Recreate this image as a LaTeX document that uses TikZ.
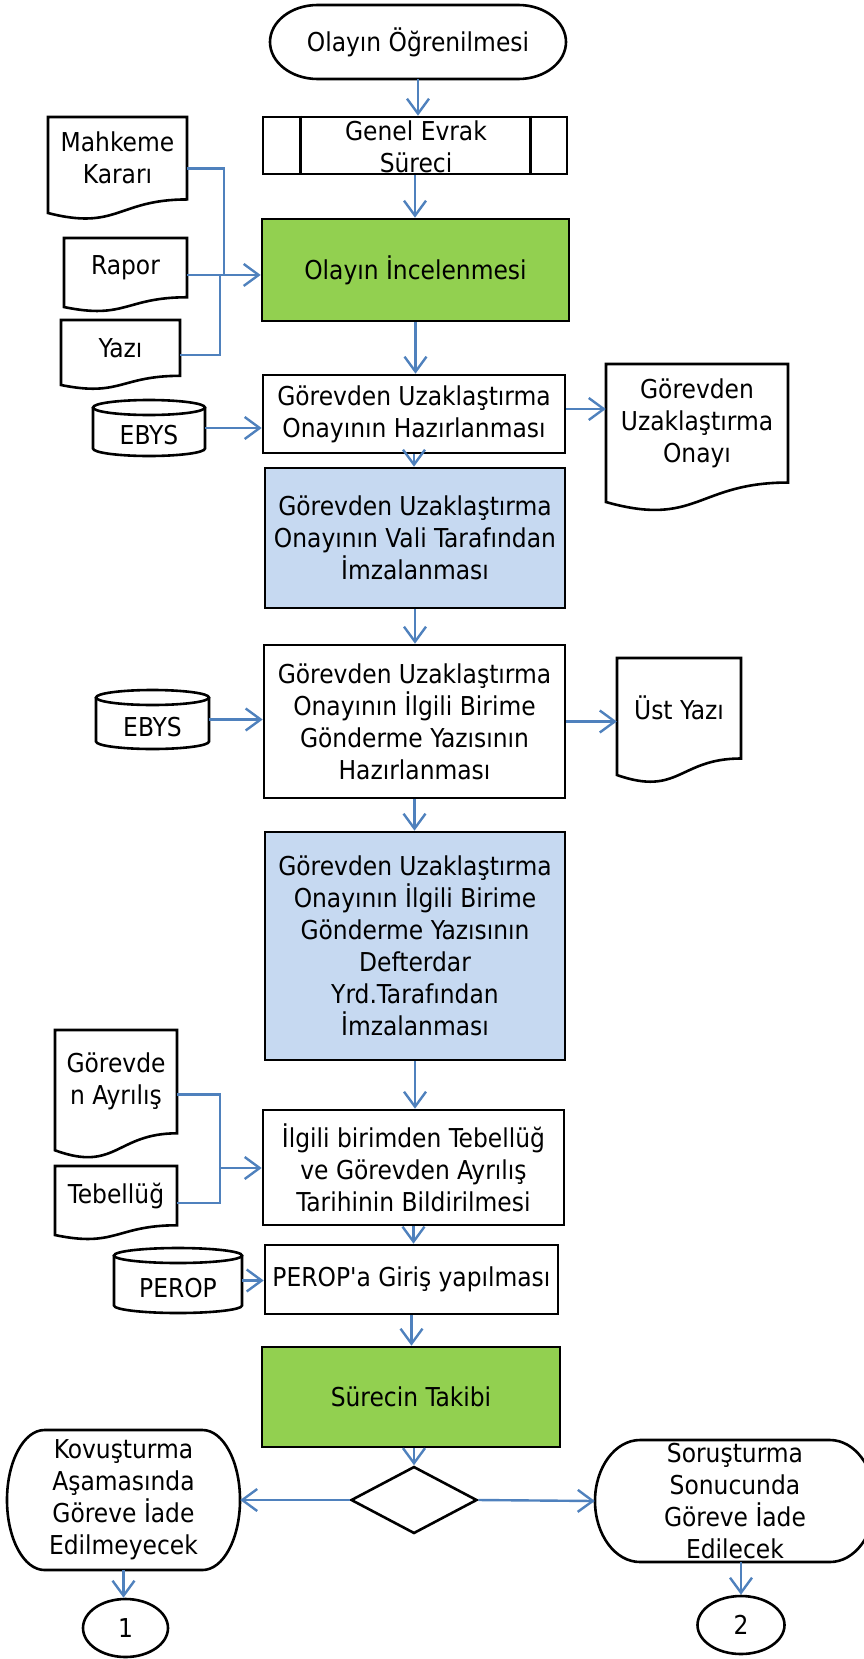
\documentclass[tikz,border=0pt]{standalone}
\usepackage{fontspec}
\setmainfont{DejaVu Sans Condensed}[Ligatures=TeXOff]
\usetikzlibrary{arrows.meta,shapes.geometric}
\definecolor{lnblue}{HTML}{4F81BD}
\definecolor{boxgreen}{HTML}{92D050}
\definecolor{boxblue}{HTML}{C6D9F1}
\newcommand{\mainfs}{\fontsize{26}{32}\selectfont}
\tikzset{
  shapeline/.style={draw=black, line width=2.6pt},
  procbox/.style={shapeline, rectangle, inner sep=0pt, align=center, font=\mainfs},
  lbl/.style={inner sep=0pt, align=center, font=\mainfs},
  conn/.style={draw=lnblue, line width=2.4pt},
  arr/.style={conn, -{Straight Barb[length=15pt,width=22pt]}},
}
% document shape: name, x1, x2, top, h, text
\newcommand{\docshape}[6]{%
  \pgfmathsetmacro{\dA}{#4+0.802*#5}%
  \pgfmathsetmacro{\dB}{#4+1.1075*#5}%
  \pgfmathsetmacro{\dC}{#4+0.934*#5}%
  \pgfmathsetmacro{\dM}{(#2+#3)/2}%
  \pgfmathsetmacro{\dW}{#3-#2}%
  \pgfmathsetmacro{\dH}{0.8*#5}%
  \pgfmathsetmacro{\dY}{#4+0.4*#5}%
  \pgfmathsetmacro{\dO}{#4+0.5*#5}%
  \draw[shapeline] (#2,#4) -- (#3,#4) -- (#3,\dA) .. controls (\dM,\dA) and (\dM,\dB) .. (#2,\dC) -- cycle;
  \node[lbl, minimum width=\dW pt, minimum height=\dH pt] (#1) at (\dM,\dY) {#6};
  \coordinate (#1-out) at (#3,\dO);
}
% cylinder: name, x1, x2, top, bottom, text
\newcommand{\cylshape}[6]{%
  \pgfmathsetmacro{\cM}{(#2+#3)/2}%
  \pgfmathsetmacro{\cR}{(#3-#2)/2}%
  \pgfmathsetmacro{\cT}{#4+7.5}%
  \pgfmathsetmacro{\cB}{#5-7.5}%
  \pgfmathsetmacro{\cY}{(#4+15+#5)/2}%
  \pgfmathsetmacro{\cW}{#3-#2}%
  \pgfmathsetmacro{\cO}{(#4+#5)/2}%
  \draw[shapeline] (#2,\cT) -- (#2,\cB) arc[start angle=180, end angle=360, x radius=\cR pt, y radius=7.5pt] -- (#3,\cT);
  \draw[shapeline] (\cM,\cT) ellipse[x radius=\cR pt, y radius=7.5pt];
  \node[lbl, minimum width=\cW pt] (#1) at (\cM,\cY) {#6};
  \coordinate (#1-out) at (#3,\cO);
}
% terminator: name, x1, y1, x2, y2, text
\newcommand{\termshape}[6]{%
  \pgfmathsetmacro{\tRx}{0.161*(#4-#2)}%
  \pgfmathsetmacro{\tRy}{(#5-#3)/2}%
  \pgfmathsetmacro{\tL}{#2+\tRx}%
  \pgfmathsetmacro{\tR}{#4-\tRx}%
  \pgfmathsetmacro{\tW}{#4-#2}%
  \pgfmathsetmacro{\tH}{#5-#3}%
  \draw[shapeline] (\tL,#3) -- (\tR,#3) arc[start angle=90, end angle=-90, x radius=\tRx pt, y radius=\tRy pt] -- (\tL,#5) arc[start angle=270, end angle=90, x radius=\tRx pt, y radius=\tRy pt] -- cycle;
  \node[lbl, minimum width=\tW pt, minimum height=\tH pt] (#1) at ({(#2+#4)/2},{(#3+#5)/2}) {#6};
}
\begin{document}
\begin{tikzpicture}[x=1pt,y=-1pt]
\useasboundingbox (0,0) rectangle (864,1659);

% ---- central column ----
\termshape{start}{270}{5}{566}{79}{Olayın Öğrenilmesi}
\node[procbox, minimum width=304pt, minimum height=57pt] (genel) at (415,145.5) {};
\draw[shapeline] ([xshift=39pt]genel.north west) -- ([xshift=39pt]genel.south west)
                 ([xshift=-38pt]genel.north east) -- ([xshift=-38pt]genel.south east);
\node[lbl] (genelt) at (416,147) {Genel Evrak\\Süreci};
\node[procbox, fill=boxgreen, minimum width=307pt, minimum height=102pt] (green1) at (415.5,270) {Olayın İncelenmesi};
\node[procbox, minimum width=302pt, minimum height=78pt] (box2) at (414,414) {Görevden Uzaklaştırma\\Onayının Hazırlanması};
\node[procbox, fill=boxblue, minimum width=300pt, minimum height=140pt] (blue1) at (415,538) {Görevden Uzaklaştırma\\Onayının Vali Tarafından\\İmzalanması};
\node[procbox, minimum width=301pt, minimum height=153pt] (box3) at (414.5,721.5) {Görevden Uzaklaştırma\\Onayının İlgili Birime\\Gönderme Yazısının\\Hazırlanması};
\node[procbox, fill=boxblue, minimum width=300pt, minimum height=228pt] (blue2) at (415,946) {Görevden Uzaklaştırma\\Onayının İlgili Birime\\Gönderme Yazısının\\Defterdar\\Yrd.Tarafından\\İmzalanması};
\node[procbox, minimum width=301pt, minimum height=115pt] (box4) at (413.5,1167.5) {İlgili birimden Tebellüğ\\ve Görevden Ayrılış\\Tarihinin Bildirilmesi};
\node[procbox, minimum width=293pt, minimum height=69pt] (perop) at (411.5,1279.5) {PEROP'a Giriş yapılması};
\node[procbox, fill=boxgreen, minimum width=298pt, minimum height=100pt] (green2) at (411,1397) {Sürecin Takibi};
\node[shapeline, diamond, inner sep=0pt, aspect=1.88, minimum width=126pt, minimum height=67pt] (dia) at (414,1500) {};

% ---- side documents and databases ----
\docshape{mahk}{48}{187}{117}{102.8}{Mahkeme\\Kararı}
\docshape{rapor}{64}{187}{238}{73.9}{Rapor}
\docshape{yazi}{61}{180}{320}{69.6}{Yazı}
\docshape{onay}{606}{788}{364}{147.8}{Görevden\\Uzaklaştırma\\Onayı}
\docshape{ust}{617}{741}{658}{125.3}{Üst Yazı}
\docshape{gayr}{55}{177}{1030}{128.8}{Görevde\\n Ayrılış}
\docshape{teb}{55}{177}{1166}{73.9}{Tebellüğ}
\cylshape{ebysa}{93}{205}{400}{456}{EBYS}
\cylshape{ebysb}{96}{209}{690}{749}{EBYS}
\cylshape{perocyl}{114}{242}{1248}{1313}{PEROP}

% ---- bottom ----
\termshape{kov}{7}{1430}{240}{1570}{Kovuşturma\\Aşamasında\\Göreve İade\\Edilmeyecek}
\termshape{sor}{595}{1440}{875}{1562}{Soruşturma\\Sonucunda\\Göreve İade\\Edilecek}
\node[shapeline, ellipse, inner sep=0pt, minimum width=85pt, minimum height=58pt, font=\mainfs] (c1) at (125.5,1628) {1};
\node[shapeline, ellipse, inner sep=0pt, minimum width=87pt, minimum height=58pt, font=\mainfs] (c2) at (741,1625) {2};

% ---- connectors ----
\draw[arr] (start.south) -- (start.south |- genel.north);
\draw[arr] (genel.south) -- (genel.south |- green1.north);
\draw[arr] (green1.south) -- (green1.south |- box2.north);
\draw[arr] (box2.south) -- (box2.south |- blue1.north);
\draw[arr] (blue1.south) -- (blue1.south |- box3.north);
\draw[arr] (box3.south) -- (box3.south |- blue2.north);
\draw[arr] (blue2.south) -- (blue2.south |- box4.north);
\draw[arr] (box4.south) -- (box4.south |- perop.north);
\draw[arr] (perop.south) -- (perop.south |- green2.north);
\draw[arr] (dia.north |- green2.south) -- (dia.north);

\coordinate (ja) at (224,275);
\coordinate (jb) at (220,275);
\draw[conn] (mahk-out) -| (ja);
\draw[conn] (yazi-out) -| (jb);
\draw[arr] (rapor-out) -- (rapor-out -| green1.west);

\draw[arr] (ebysa-out) -- (ebysa-out -| box2.west);
\coordinate (oa) at ([yshift=5pt]box2.east);
\draw[arr] (oa) -- (oa -| onay.west);

\draw[arr] (ebysb-out) -- (ebysb-out -| box3.west);
\draw[arr] (box3.east) -- (box3.east -| ust.west);

\coordinate (jc) at (220,1168);
\draw[conn] (gayr-out) -| (jc);
\draw[conn] (teb-out) -| (jc);
\draw[arr] (jc) -- (jc -| box4.west);

\draw[arr] (perocyl-out) -- (perocyl-out -| perop.west);

\draw[arr] (dia.west) -- (kov.east);
\draw[arr] (dia.east) -- (sor.west);
\draw[arr] (kov.south) -- (kov.south |- c1.north);
\draw[arr] (c2.north |- sor.south) -- (c2.north);
\end{tikzpicture}
\end{document}
